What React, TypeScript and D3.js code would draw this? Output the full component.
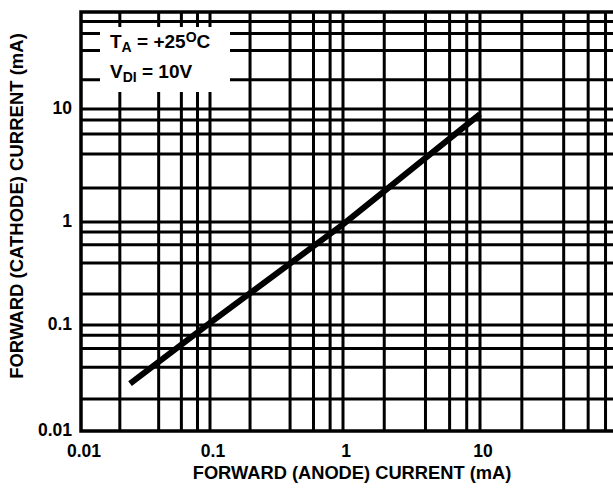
import React, { useEffect, useRef } from "react";
import * as d3 from "d3";

// decade marks on both axes (mA)
const decades = [0.01, 0.1, 1, 10, 100];
// grid lines are drawn at these multiples of every decade
const gridMultipliers = [1, 2, 4, 6, 8];
const xTickValues = [0.01, 0.1, 1, 10];
const xTickLabels = ["0.01", "0.1", "1", "10"];
const yTickValues = [0.01, 0.1, 1, 10];
const yTickLabels = ["0.01", "0.1", "1", "10"];

// transfer curve
const anodeCurrent = [0.024, 0.1, 1, 10];
const cathodeCurrent = [0.028, 0.105, 0.95, 9];

const xTitle = "FORWARD (ANODE) CURRENT (mA)";
const yTitle = "FORWARD (CATHODE) CURRENT (mA)";

const W = 613;
const H = 489;
const FONT = "'Liberation Sans', Arial, Helvetica, sans-serif";

const App = () => {
  const chartRef = useRef(null);

  useEffect(() => {
    d3.select(chartRef.current).selectAll("*").remove();
    drawChart();
  }, []);

  const drawChart = () => {
    const svg = d3
      .select(chartRef.current)
      .append("svg")
      .attr("width", W)
      .attr("height", H)
      .style("position", "absolute")
      .style("left", 0)
      .style("top", 0)
      .style("background", "#fff");

    // the scanned sheet has slightly uneven decades, so use a piecewise log scale
    const x = d3.scaleLog().domain(decades).range([81, 210, 343, 480, 619]);
    const y = d3.scaleLog().domain(decades).range([431, 325, 222, 109, 12]);

    const left = x(0.01);
    const bottom = y(0.01);
    const top = y(100);

    const gridVals = [];
    decades.slice(0, 4).forEach((d) => gridMultipliers.forEach((m) => gridVals.push(d * m)));

    const g = svg.append("g");

    // vertical grid
    g.selectAll("line.vx")
      .data(gridVals.filter((v) => v > 0.01))
      .enter()
      .append("line")
      .attr("x1", (d) => x(d))
      .attr("x2", (d) => x(d))
      .attr("y1", top)
      .attr("y2", bottom)
      .attr("stroke", "#000")
      .attr("stroke-width", 3);

    // horizontal grid
    g.selectAll("line.hy")
      .data(gridVals.filter((v) => v > 0.01))
      .enter()
      .append("line")
      .attr("x1", left)
      .attr("x2", W)
      .attr("y1", (d) => y(d))
      .attr("y2", (d) => y(d))
      .attr("stroke", "#000")
      .attr("stroke-width", 3);

    // frame: left, bottom, top
    const frame = d3.path();
    frame.moveTo(W, top);
    frame.lineTo(left, top);
    frame.lineTo(left, bottom);
    frame.lineTo(W, bottom);
    g.append("path")
      .attr("d", frame.toString())
      .attr("fill", "none")
      .attr("stroke", "#000")
      .attr("stroke-width", 3.5);

    // legend box knocks out the grid
    g.append("rect")
      .attr("x", 100)
      .attr("y", 27)
      .attr("width", 130)
      .attr("height", 65)
      .attr("fill", "#fff");

    const leg = g
      .append("g")
      .attr("font-family", FONT)
      .attr("font-weight", "bold")
      .attr("font-size", 19)
      .attr("fill", "#000");

    const t1 = leg.append("text").attr("x", 110).attr("y", 48);
    t1.append("tspan").text("T");
    t1.append("tspan").attr("font-size", 14).attr("dy", 4).text("A");
    t1.append("tspan").attr("dy", -4).text(" = +25");
    t1.append("tspan").attr("font-size", 14).attr("dy", -6).text("O");
    t1.append("tspan").attr("dy", 6).text("C");

    const t2 = leg.append("text").attr("x", 110).attr("y", 78);
    t2.append("tspan").text("V");
    t2.append("tspan").attr("font-size", 14).attr("dy", 4).text("DI");
    t2.append("tspan").attr("dy", -4).text(" = 10V");

    // curve
    const pts = anodeCurrent.map((a, i) => [a, cathodeCurrent[i]]);
    const line = d3
      .line()
      .x((d) => x(d[0]))
      .y((d) => y(d[1]));
    g.append("path")
      .datum(pts)
      .attr("d", line)
      .attr("fill", "none")
      .attr("stroke", "#000")
      .attr("stroke-width", 6)
      .attr("stroke-linejoin", "round");

    // tick labels
    const labels = svg
      .append("g")
      .attr("font-family", FONT)
      .attr("font-weight", "bold")
      .attr("font-size", 17.5)
      .attr("fill", "#000");

    labels
      .selectAll("text.xt")
      .data(xTickValues)
      .enter()
      .append("text")
      .attr("x", (d) => x(d) + 3)
      .attr("y", 457)
      .attr("text-anchor", "middle")
      .text((d, i) => xTickLabels[i]);

    labels
      .selectAll("text.yt")
      .data(yTickValues)
      .enter()
      .append("text")
      .attr("x", 72)
      .attr("y", (d) => y(d) + 5)
      .attr("text-anchor", "end")
      .text((d, i) => yTickLabels[i]);

    // axis titles
    svg
      .append("text")
      .attr("x", 352)
      .attr("y", 479)
      .attr("text-anchor", "middle")
      .attr("font-family", FONT)
      .attr("font-weight", "bold")
      .attr("font-size", 18.3)
      .text(xTitle);

    svg
      .append("text")
      .attr("transform", "translate(23,206) rotate(-90)")
      .attr("text-anchor", "middle")
      .attr("font-family", FONT)
      .attr("font-weight", "bold")
      .attr("font-size", 18.5)
      .text(yTitle);
  };

  return <div ref={chartRef} className="chart"></div>;
};

export default App;
